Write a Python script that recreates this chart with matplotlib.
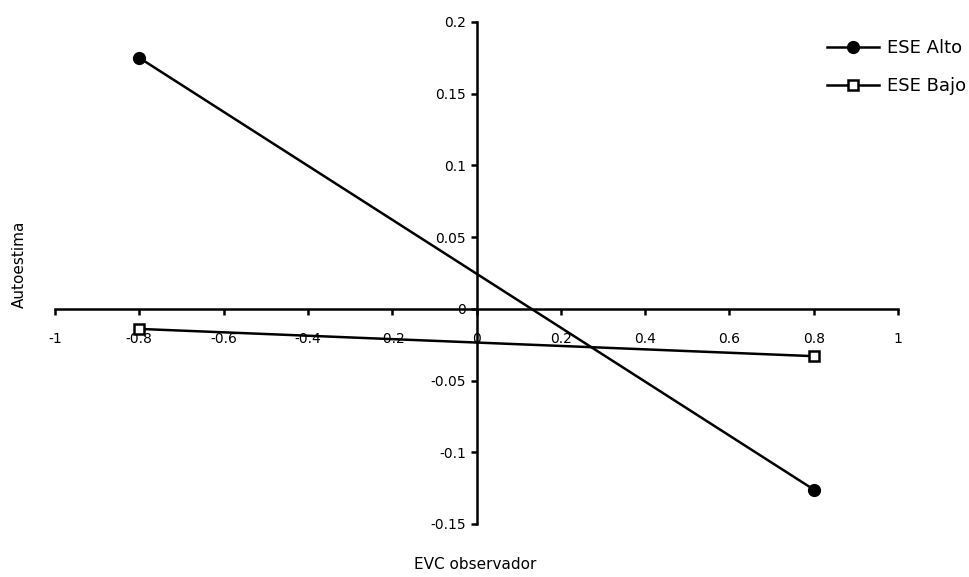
import matplotlib.pyplot as plt

evc = [-0.8, 0.8]
alto = [0.175, -0.126]
bajo = [-0.014, -0.033]
xticks = [-1, -0.8, -0.6, -0.4, -0.2, 0, 0.2, 0.4, 0.6, 0.8, 1]
yticks = [-0.15, -0.1, -0.05, 0, 0.05, 0.1, 0.15, 0.2]

plt.rcParams['font.family'] = ['DejaVu Sans']
fig = plt.figure(figsize=(9.7, 5.77), dpi=100)
ax = fig.add_axes([0.0567, 0.0919, 0.8691, 0.87])

ax.plot(evc, alto, color='black', lw=1.8, marker='o', ms=8.5,
        mfc='black', mec='black', label='ESE Alto')
ax.plot(evc, bajo, color='black', lw=1.8, marker='s', ms=7.5,
        mfc='white', mec='black', mew=1.8, label='ESE Bajo')

ax.set_xlim(-1, 1)
ax.set_ylim(-0.15, 0.2)
ax.spines['left'].set_position(('data', 0))
ax.spines['bottom'].set_position(('data', 0))
ax.spines['top'].set_visible(False)
ax.spines['right'].set_visible(False)
for s in ('left', 'bottom'):
    ax.spines[s].set_linewidth(1.8)

ax.set_xticks(xticks)
ax.set_xticklabels([f'{v:g}' for v in xticks])
ax.set_yticks(yticks)
ax.set_yticklabels([f'{v:g}' for v in yticks])
ax.tick_params(axis='both', labelsize=10, width=1.8, length=4, direction='out')
ax.tick_params(axis='x', pad=13)

fig.text(0.02, 0.542, 'Autoestima', rotation=90, ha='center', va='center', fontsize=11)
fig.text(0.49, 0.021, 'EVC observador', ha='center', va='center', fontsize=11)

fig.legend(loc='upper left', bbox_to_anchor=(0.8526, 0.932), frameon=False,
           fontsize=13, handlelength=2.9, handletextpad=0.4,
           borderaxespad=0, borderpad=0, labelspacing=1.1)

fig.savefig('out.png', dpi=100)
